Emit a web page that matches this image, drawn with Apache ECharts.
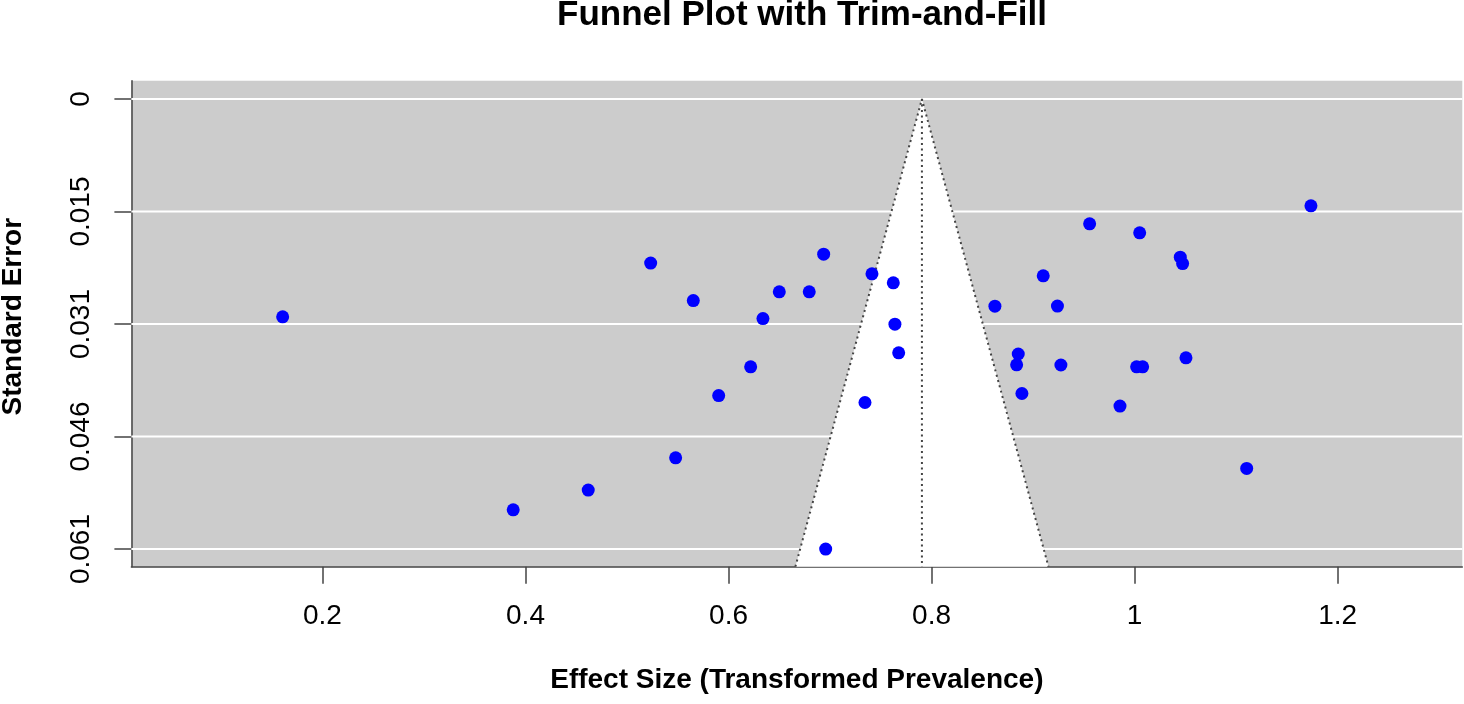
<!DOCTYPE html>
<html>
<head>
<meta charset="utf-8">
<script src="https://cdn.jsdelivr.net/npm/echarts@6/dist/echarts.min.js"></script>
<style>
  html, body { margin: 0; padding: 0; background: #ffffff; }
  #chart { width: 1464px; height: 704px; }
</style>
</head>
<body>
<div id="chart"></div>
<script>
// ---- Data ----
const effectSizes = [
  0.1608, 0.3879, 0.4618, 0.5233, 0.5479, 0.5653, 0.5903, 0.6218, 0.6339,
  0.6500, 0.6795, 0.6937, 0.6957, 0.7344, 0.7413, 0.7623, 0.7639, 0.7676,
  0.8624, 0.8838, 0.8854, 0.8890, 0.9100, 0.9240, 0.9274, 0.9557, 0.9856,
  1.0020, 1.0050, 1.0079, 1.0450, 1.0473, 1.0506, 1.1104, 1.1737
];
const standardErrors = [
  0.02961, 0.05586, 0.05318, 0.02231, 0.04879, 0.02740, 0.04032, 0.03641, 0.02985,
  0.02622, 0.02622, 0.02109, 0.06120, 0.04127, 0.02377, 0.02499, 0.03061, 0.03451,
  0.02816, 0.03614, 0.03467, 0.04004, 0.02404, 0.02815, 0.03617, 0.01697, 0.04176,
  0.03641, 0.01819, 0.03641, 0.02150, 0.02237, 0.03519, 0.05024, 0.01452
];
const pooledEstimate = 0.7905;
const ciMultiplier = 1.96;
const seTickValues = [0, 0.0153, 0.0306, 0.0459, 0.0612];
const seTickLabels = ['0', '0.015', '0.031', '0.046', '0.061'];
const xTickValues = [0.2, 0.4, 0.6, 0.8, 1.0, 1.2];
const xLimits = [0.0118, 1.3228];
const seLimits = [-0.0025, 0.0636];

const titleText = 'Funnel Plot with Trim-and-Fill';
const xAxisTitle = 'Effect Size (Transformed Prevalence)';
const yAxisTitle = 'Standard Error';

// ---- Derived series ----
const points = effectSizes.map((x, i) => [x, standardErrors[i]]);
const seBottom = seLimits[1];
const funnelVertices = [
  [pooledEstimate - ciMultiplier * seBottom, seBottom],
  [pooledEstimate, 0],
  [pooledEstimate + ciMultiplier * seBottom, seBottom]
];
const centerLine = [[pooledEstimate, 0], [pooledEstimate, seBottom]];

const FONT = "'Liberation Sans', Arial, sans-serif";
const AXIS_COLOR = '#444444';

const chart = echarts.init(document.getElementById('chart'), null, { renderer: 'canvas' });

chart.setOption({
  animation: false,
  backgroundColor: '#ffffff',
  title: {
    text: titleText,
    left: 797,
    top: -7,
    textAlign: 'center',
    textStyle: { fontFamily: FONT, fontSize: 35, fontWeight: 'bold', color: '#000000' }
  },
  grid: {
    left: 131.4,
    right: 1.7,
    top: 80.7,
    bottom: 137.3,
    show: true,
    backgroundColor: '#cccccc',
    borderWidth: 0,
    containLabel: false,
    outerBoundsMode: 'none'
  },
  xAxis: {
    type: 'value',
    min: xLimits[0],
    max: xLimits[1],
    name: xAxisTitle,
    nameLocation: 'middle',
    nameGap: 100,
    nameTextStyle: { fontFamily: FONT, fontSize: 28, fontWeight: 'bold', color: '#000000' },
    axisLine: { show: true, onZero: false, lineStyle: { color: AXIS_COLOR, width: 1.5 } },
    axisTick: { show: true, length: 17, customValues: xTickValues, lineStyle: { color: AXIS_COLOR, width: 1.5 } },
    axisLabel: {
      customValues: xTickValues,
      margin: 36,
      fontFamily: FONT, fontSize: 28, color: '#000000',
      formatter: v => String(Math.round(v * 10) / 10)
    },
    splitLine: { show: false }
  },
  yAxis: {
    type: 'value',
    inverse: true,
    min: seLimits[0],
    max: seLimits[1],
    name: yAxisTitle,
    nameLocation: 'middle',
    nameGap: 104,
    nameTextStyle: { fontFamily: FONT, fontSize: 28, fontWeight: 'bold', color: '#000000', padding: [0, 0, 0, 14] },
    axisLine: { show: true, onZero: false, lineStyle: { color: AXIS_COLOR, width: 1.5 } },
    axisTick: { show: true, length: 17, customValues: seTickValues, lineStyle: { color: AXIS_COLOR, width: 1.5 } },
    axisLabel: {
      customValues: seTickValues,
      rotate: 90,
      margin: 36,
      fontFamily: FONT, fontSize: 28, color: '#000000',
      formatter: v => {
        let best = 0;
        seTickValues.forEach((t, i) => { if (Math.abs(t - v) < Math.abs(seTickValues[best] - v)) best = i; });
        return seTickLabels[best];
      }
    },
    splitLine: { show: false }
  },
  series: [
    {
      name: 'gridlines',
      type: 'custom',
      silent: true,
      z: 1,
      data: seTickValues.map(v => [xLimits[0], v]),
      renderItem: (params, api) => {
        const v = api.value(1);
        const p1 = api.coord([xLimits[0], v]);
        const p2 = api.coord([xLimits[1], v]);
        return {
          type: 'line',
          shape: { x1: p1[0], y1: p1[1], x2: p2[0], y2: p2[1] },
          style: { stroke: '#ffffff', lineWidth: 2 }
        };
      }
    },
    {
      name: 'funnel region',
      type: 'custom',
      silent: true,
      z: 2,
      data: [[pooledEstimate, 0]],
      renderItem: (params, api) => ({
        type: 'polygon',
        shape: { points: funnelVertices.map(p => api.coord(p)) },
        style: { fill: '#ffffff' }
      })
    },
    {
      name: 'funnel edges',
      type: 'line',
      data: funnelVertices,
      symbol: 'none',
      silent: true,
      z: 3,
      lineStyle: { color: '#444444', width: 2, type: [2, 3.5] }
    },
    {
      name: 'pooled estimate',
      type: 'line',
      data: centerLine,
      symbol: 'none',
      silent: true,
      z: 3,
      lineStyle: { color: '#444444', width: 2, type: [2, 3.5] }
    },
    {
      name: 'studies',
      type: 'scatter',
      data: points,
      symbol: 'circle',
      symbolSize: 13,
      z: 4,
      itemStyle: { color: '#0000ff', opacity: 1 }
    }
  ]
});
</script>
</body>
</html>
